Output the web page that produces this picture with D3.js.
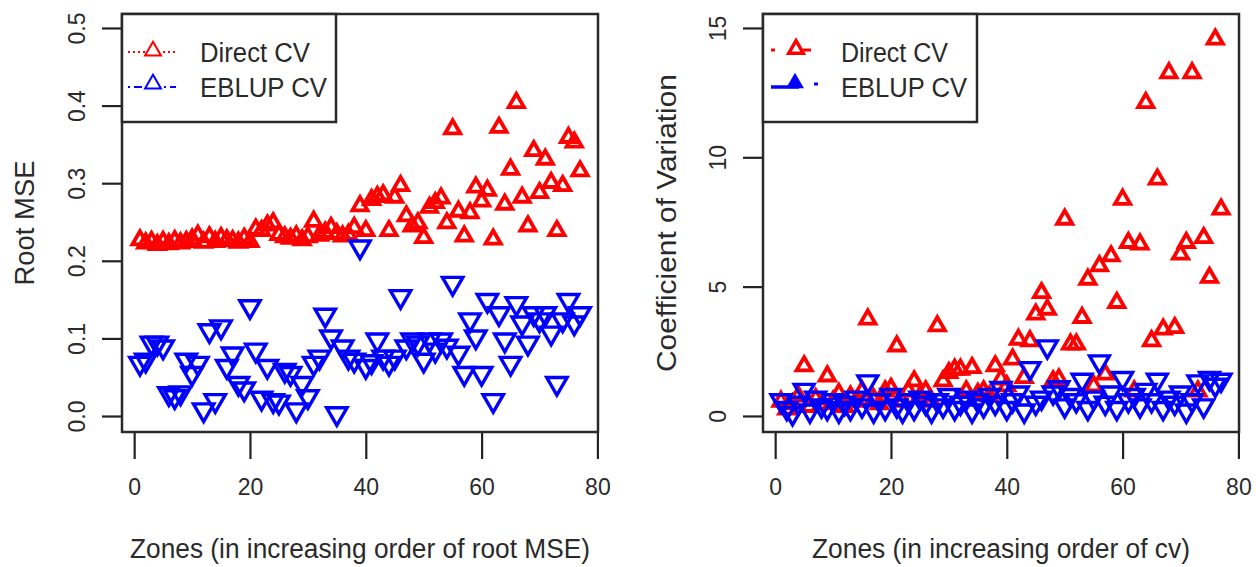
<!DOCTYPE html>
<html>
<head>
<meta charset="utf-8">
<script src="https://cdn.jsdelivr.net/npm/d3@7"></script>
<style>
  body { margin: 0; background: #fff; }
  text { font-family: "Liberation Sans", Arial, sans-serif; fill: #2a2a2a; }
</style>
</head>
<body>
<svg></svg>
<script>
// zone index 1..77
const zones = d3.range(1, 78)

// left panel: root MSE
const rmseDirect = [0.228,0.224,0.226,0.222,0.226,0.223,0.227,0.224,0.226,0.229,
  0.234,0.225,0.232,0.226,0.231,0.228,0.227,0.225,0.230,0.226,
  0.242,0.240,0.247,0.250,0.235,0.232,0.230,0.233,0.228,0.232,
  0.252,0.234,0.238,0.244,0.236,0.233,0.235,0.244,0.272,0.240,
  0.280,0.284,0.286,0.240,0.283,0.298,0.259,0.246,0.250,0.231,
  0.270,0.276,0.282,0.250,0.371,0.265,0.233,0.263,0.296,0.278,
  0.292,0.229,0.373,0.274,0.319,0.405,0.283,0.246,0.343,0.289,
  0.332,0.302,0.240,0.298,0.360,0.354,0.317]
const rmseEblup = [0.068,0.072,0.094,0.094,0.089,0.029,0.025,0.030,0.072,0.055,
  0.068,0.008,0.110,0.020,0.115,0.064,0.080,0.042,0.035,0.141,
  0.085,0.023,0.064,0.020,0.018,0.059,0.055,0.008,0.042,0.025,
  0.068,0.076,0.130,0.102,0.003,0.089,0.076,0.072,0.218,0.064,
  0.070,0.098,0.076,0.068,0.076,0.154,0.089,0.098,0.094,0.072,
  0.098,0.085,0.098,0.090,0.171,0.081,0.055,0.124,0.102,0.055,
  0.149,0.020,0.132,0.098,0.068,0.145,0.120,0.094,0.132,0.124,
  0.132,0.107,0.042,0.124,0.149,0.120,0.132]

// right panel: coefficient of variation
const cvDirect = [0.6,0.3,0.5,0.8,1.97,0.4,0.7,0.5,1.58,0.6,
  0.9,0.4,0.8,0.6,1.0,3.78,0.7,0.5,1.0,1.1,
  2.74,0.6,1.0,1.39,0.8,1.0,0.6,3.52,1.39,1.71,
  1.84,1.84,1.0,1.9,0.9,1.0,0.8,1.97,1.46,1.2,
  2.23,3.0,1.52,2.94,3.97,4.8,4.16,1.39,1.46,7.64,
  2.81,2.81,3.84,5.32,1.2,5.84,1.65,6.22,4.42,8.41,
  6.74,1.0,6.68,12.15,2.94,9.19,3.39,13.3,3.45,6.29,
  6.74,13.3,1.0,6.93,5.39,14.6,8.03]
const cvEblup = [0.6,0.3,0.1,0.5,1.0,0.2,0.7,0.4,0.3,0.6,
  0.2,0.5,0.3,0.7,0.4,1.33,0.2,0.6,0.3,0.8,
  0.4,0.2,0.6,0.3,0.7,0.5,0.2,0.6,0.4,0.8,
  0.3,0.5,0.7,0.2,0.6,0.4,0.8,0.5,1.07,0.3,
  0.6,0.9,0.2,1.84,0.5,0.7,2.68,0.9,1.1,0.4,
  0.8,0.6,1.39,0.3,0.7,2.1,0.5,0.9,0.3,1.46,
  0.6,0.8,0.4,1.0,0.6,1.39,0.3,0.7,0.5,0.9,
  0.2,0.6,1.33,0.4,1.46,1.2,1.39]

const xTicks = [0, 20, 40, 60, 80]
const rmseTicks = [0.0, 0.1, 0.2, 0.3, 0.4, 0.5]
const cvTicks = [0, 5, 10, 15]

const svg = d3.select('svg').attr('width', 1256).attr('height', 567)

const red = '#ff0000'
const blue = '#0000ff'

const upTri = d3.symbol().type(d3.symbolTriangle)
const downTri = d3.symbol().type(d3.symbolTriangle)

const drawPanel = (p) => {
  const g = svg.append('g')
  const x = d3.scaleLinear().domain([-2.1, 80.1]).range([p.left, p.right])
  const y = d3.scaleLinear().domain(p.yDomain).range([p.bottom, p.top])

  // points
  g.append('g').selectAll('path')
    .data(zones)
    .enter()
    .append('path')
    .attr('d', upTri.size(p.upSize)())
    .attr('transform', (d, i) => 'translate(' + x(d) + ',' + (y(p.direct[i]) + 1) + ')')
    .attr('fill', 'none')
    .attr('stroke', red)
    .attr('stroke-width', 3.8)

  g.append('g').selectAll('path')
    .data(zones)
    .enter()
    .append('path')
    .attr('d', downTri.size(p.downSize)())
    .attr('transform', (d, i) => 'translate(' + x(d) + ',' + y(p.eblup[i]) + ') rotate(180)')
    .attr('fill', 'none')
    .attr('stroke', blue)
    .attr('stroke-width', 3.4)

  // x axis
  const xAxis = d3.axisBottom(x).tickValues(xTicks).tickSize(27).tickPadding(20)
  const xg = g.append('g')
    .attr('transform', 'translate(0,' + p.bottom + ')')
    .call(xAxis)
  xg.select('.domain').remove()
  xg.selectAll('line').attr('stroke', '#222').attr('stroke-width', 2.2)
  xg.selectAll('text').attr('font-size', 23).attr('fill', '#2a2a2a')
    .attr('font-family', '"Liberation Sans", Arial, sans-serif')

  // y axis, labels rotated like R
  const yAxis = d3.axisLeft(y).tickValues(p.yTicks).tickSize(20).tickFormat(p.fmt)
  const yg = g.append('g')
    .attr('transform', 'translate(' + p.left + ',0)')
    .call(yAxis)
  yg.select('.domain').remove()
  yg.selectAll('line').attr('stroke', '#222').attr('stroke-width', 2.2)
  yg.selectAll('text')
    .attr('font-size', 23).attr('fill', '#2a2a2a')
    .attr('font-family', '"Liberation Sans", Arial, sans-serif')
    .attr('text-anchor', 'middle')
    .attr('x', 0).attr('dy', 0)
    .attr('y', -37)
    .attr('transform', 'rotate(-90)')

  // plot box
  g.append('rect')
    .attr('x', p.left).attr('y', p.top)
    .attr('width', p.right - p.left).attr('height', p.bottom - p.top)
    .attr('fill', 'none').attr('stroke', '#2a2a2a').attr('stroke-width', 2.5)

  // legend
  const lg = g.append('g')
  lg.append('rect')
    .attr('x', p.left).attr('y', p.top)
    .attr('width', p.legW).attr('height', 108)
    .attr('fill', '#fff').attr('stroke', '#2a2a2a').attr('stroke-width', 2.5)
  p.legendMarks(lg, p.left)
  lg.append('text').text('Direct CV')
    .attr('x', p.left + 78).attr('y', 62)
    .attr('font-size', 27).attr('textLength', p.legT1).attr('lengthAdjust', 'spacingAndGlyphs')
  lg.append('text').text('EBLUP CV')
    .attr('x', p.left + 78).attr('y', 97)
    .attr('font-size', 27).attr('textLength', p.legT2).attr('lengthAdjust', 'spacingAndGlyphs')

  // axis titles
  g.append('text').text(p.xTitle)
    .attr('x', (p.left + p.right) / 2).attr('y', 558)
    .attr('text-anchor', 'middle').attr('font-size', 27)
    .attr('textLength', p.xTitleLen).attr('lengthAdjust', 'spacingAndGlyphs')
  g.append('text').text(p.yTitle)
    .attr('transform', 'translate(' + p.yTitleX + ',' + (p.top + p.bottom) / 2 + ') rotate(-90)')
    .attr('text-anchor', 'middle').attr('font-size', 27)
    .attr('textLength', p.yTitleLen).attr('lengthAdjust', 'spacingAndGlyphs')
}

const leftLegend = (lg, x0) => {
  lg.append('line').attr('x1', x0 + 6).attr('x2', x0 + 54).attr('y1', 52).attr('y2', 52)
    .attr('stroke', red).attr('stroke-width', 2).attr('stroke-dasharray', '2 3')
  lg.append('path').attr('d', upTri.size(110)())
    .attr('transform', 'translate(' + (x0 + 31) + ',51)')
    .attr('fill', '#fff').attr('stroke', red).attr('stroke-width', 2)
  lg.append('line').attr('x1', x0 + 6).attr('x2', x0 + 54).attr('y1', 87).attr('y2', 87)
    .attr('stroke', blue).attr('stroke-width', 2).attr('stroke-dasharray', '2 4 8 4')
  lg.append('path').attr('d', upTri.size(110)())
    .attr('transform', 'translate(' + (x0 + 31) + ',84)')
    .attr('fill', '#fff').attr('stroke', blue).attr('stroke-width', 2)
}

const rightLegend = (lg, x0) => {
  lg.append('line').attr('x1', x0 + 8).attr('x2', x0 + 12).attr('y1', 50).attr('y2', 50)
    .attr('stroke', red).attr('stroke-width', 3)
  lg.append('line').attr('x1', x0 + 40).attr('x2', x0 + 48).attr('y1', 50).attr('y2', 50)
    .attr('stroke', red).attr('stroke-width', 3)
  lg.append('path').attr('d', upTri.size(90)())
    .attr('transform', 'translate(' + (x0 + 33) + ',49)')
    .attr('fill', '#fff').attr('stroke', red).attr('stroke-width', 3.5)
  lg.append('line').attr('x1', x0 + 8).attr('x2', x0 + 36).attr('y1', 87).attr('y2', 87)
    .attr('stroke', blue).attr('stroke-width', 3.5)
  lg.append('path').attr('d', upTri.size(70)())
    .attr('transform', 'translate(' + (x0 + 32) + ',83)')
    .attr('fill', blue).attr('stroke', blue).attr('stroke-width', 3)
  lg.append('line').attr('x1', x0 + 51).attr('x2', x0 + 55).attr('y1', 84).attr('y2', 84)
    .attr('stroke', blue).attr('stroke-width', 3)
}

drawPanel({
  left: 122, right: 598, top: 14, bottom: 432,
  yDomain: [-0.0206, 0.518], yTicks: rmseTicks, fmt: d3.format('.1f'),
  direct: rmseDirect, eblup: rmseEblup,
  upSize: 100, downSize: 180,
  legW: 214, legT1: 110, legT2: 127, legendMarks: leftLegend,
  xTitle: 'Zones (in increasing order of root MSE)', xTitleLen: 460,
  yTitle: 'Root MSE', yTitleX: 34, yTitleLen: 125
})

drawPanel({
  left: 763, right: 1239, top: 14, bottom: 432,
  yDomain: [-0.62, 15.54], yTicks: cvTicks, fmt: d3.format('d'),
  direct: cvDirect, eblup: cvEblup,
  upSize: 100, downSize: 170,
  legW: 214, legT1: 107, legT2: 126, legendMarks: rightLegend,
  xTitle: 'Zones (in increasing order of cv)', xTitleLen: 378,
  yTitle: 'Coefficient of Variation', yTitleX: 676, yTitleLen: 298
})
</script>
</body>
</html>
